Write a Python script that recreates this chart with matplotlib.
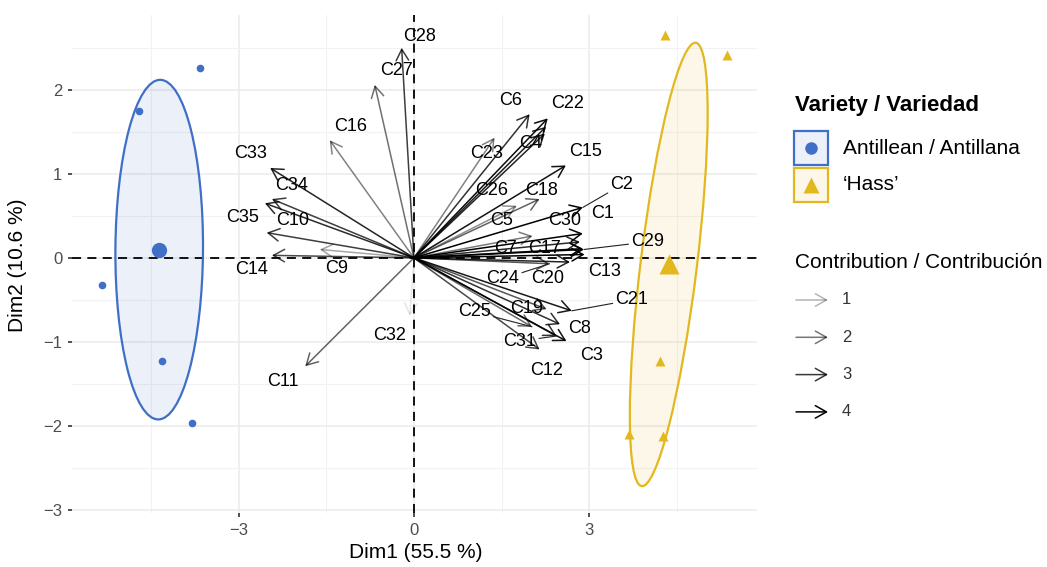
import numpy as np
import matplotlib
matplotlib.use("Agg")
import matplotlib.pyplot as plt
from matplotlib.patches import Ellipse, Rectangle

# individuals (PCA scores)
antillean_x = [-3.66, -4.70, -5.33, -4.31, -3.79]
antillean_y = [2.26, 1.75, -0.32, -1.23, -1.97]
hass_x = [4.29, 5.35, 4.21, 3.68, 4.27]
hass_y = [2.65, 2.41, -1.23, -2.10, -2.12]

# variables (scaled arrow tips) and contribution
var_names = ["C%d" % i for i in range(1, 36)]
var_x = [2.89, 2.89, 2.61, 2.26, 1.76, 1.98, 2.03, 2.50, -1.61, -2.55,
         -1.86, 2.15, 2.92, -2.43, 2.60, -1.44, 2.89, 2.15, 2.27, 2.67,
         2.70, 2.29, 1.38, 2.32, 2.02, 2.24, -0.67, -0.21, 2.91, 2.84,
         2.44, -0.07, -2.46, -2.43, -2.52]
var_y = [0.29, 0.60, -0.99, 1.56, 0.62, 1.71, 0.26, -0.79, 0.10, 0.65,
         -1.29, -1.09, 0.04, 0.03, 1.10, 1.40, 0.11, 0.70, -0.61, -0.05,
         -0.63, 1.66, 1.43, -0.07, -0.82, 1.48, 2.06, 2.50, 0.10, 0.19,
         -0.93, -0.69, 1.07, 0.70, 0.30]
contrib = [3.9, 3.9, 3.6, 3.4, 1.6, 3.1, 1.9, 3.1, 1.2, 3.2,
           2.3, 2.7, 3.9, 2.7, 3.6, 1.8, 3.8, 2.3, 2.5, 3.3,
           3.5, 3.7, 1.8, 2.5, 2.2, 3.3, 2.1, 2.9, 3.8, 3.2,
           3.1, 0.2, 3.3, 2.9, 2.9]

# label placement (repelled positions)
label_x = [3.23, 3.56, 3.04, 2.00, 1.50, 1.66, 1.56, 2.84, -1.32, -2.07,
           -2.24, 2.27, 3.26, -2.77, 2.94, -1.08, 2.24, 2.19, 1.93, 2.29,
           3.73, 2.63, 1.25, 1.52, 1.03, 1.33, -0.29, 0.10, 4.00, 2.58,
           1.81, -0.41, -2.80, -2.09, -2.94]
label_y = [0.53, 0.87, -1.16, 1.36, 0.44, 1.87, 0.11, -0.84, -0.13, 0.45,
           -1.47, -1.34, -0.16, -0.14, 1.26, 1.56, 0.11, 0.80, -0.60, -0.25,
           -0.50, 1.84, 1.24, -0.25, -0.64, 0.80, 2.23, 2.64, 0.19, 0.44,
           -0.99, -0.92, 1.24, 0.86, 0.48]
leaders = ["C2", "C21", "C24", "C25", "C29", "C31"]

blue = "#3F6FC6"
gold = "#E3B81F"
narrow = ["Liberation Sans Narrow", "Liberation Sans", "DejaVu Sans"]
plain = ["Liberation Sans", "DejaVu Sans"]

fig = plt.figure(figsize=(10.47, 5.67), dpi=100)
W, H = 1047, 567
ax = fig.add_axes([72 / W, 1 - 513 / H, (757 - 72) / W, (513 - 15) / H])
ax.set_xlim(-5.85, 5.87)
ax.set_ylim(-3.036, 2.89)

for s in ax.spines.values():
    s.set_visible(False)
ax.set_xticks([-3, 0, 3])
ax.set_yticks([-3, -2, -1, 0, 1, 2])
ax.set_xticks([-4.5, -1.5, 1.5, 4.5], minor=True)
ax.set_yticks([-2.5, -1.5, -0.5, 0.5, 1.5, 2.5], minor=True)
ax.grid(which="major", color="#ebebeb", lw=1.1)
ax.grid(which="minor", color="#f2f2f2", lw=0.8)
ax.set_axisbelow(True)
ax.tick_params(which="major", length=3, width=1.2, color="#333333",
               labelsize=12, labelcolor="#4d4d4d", pad=4)
ax.tick_params(which="minor", length=0)
for lab in ax.get_xticklabels() + ax.get_yticklabels():
    lab.set_family(plain)

ax.axhline(0, color="black", lw=1.3, dashes=(5, 3.5), zorder=2)
ax.axvline(0, color="black", lw=1.3, dashes=(5, 3.5), zorder=2)


def conf_ellipse(x, y, color, k=1.095):
    x = np.asarray(x)
    y = np.asarray(y)
    cov = np.cov(x, y)
    vals, vecs = np.linalg.eigh(cov)
    ang = np.degrees(np.arctan2(vecs[1, 1], vecs[0, 1]))
    w, h = 2 * k * np.sqrt(vals[1]), 2 * k * np.sqrt(vals[0])
    ax.add_patch(Ellipse((x.mean(), y.mean()), w, h, angle=ang, facecolor=color,
                         alpha=0.1, edgecolor="none", zorder=1))
    ax.add_patch(Ellipse((x.mean(), y.mean()), w, h, angle=ang, facecolor="none",
                         edgecolor=color, lw=1.6, zorder=3))


conf_ellipse(antillean_x, antillean_y, blue)
conf_ellipse(hass_x, hass_y, gold)

ax.plot(antillean_x, antillean_y, "o", color=blue, ms=5.5, mec="none", zorder=4)
ax.plot(hass_x, hass_y, "^", color=gold, ms=7, mec="none", zorder=4)
ax.plot(np.mean(antillean_x), np.mean(antillean_y), "o", color=blue, ms=11, mec="none", zorder=4)
ax.plot(np.mean(hass_x), np.mean(hass_y), "^", color=gold, ms=15, mec="none", zorder=4)

cmin, cmax = min(contrib), max(contrib)


def alpha_of(c):
    return float(np.clip(0.1 + 0.9 * (c - cmin) / (cmax - cmin), 0, 1))


arrow_style = "->,head_length=0.8,head_width=0.45"
for name, x, y, c in zip(var_names, var_x, var_y, contrib):
    ax.annotate("", xy=(x, y), xytext=(0, 0),
                arrowprops=dict(arrowstyle=arrow_style, lw=1.1, color=(0, 0, 0, alpha_of(c)),
                                shrinkA=0, shrinkB=0, mutation_scale=10), zorder=5)

for name, x, y, lx, ly in zip(var_names, var_x, var_y, label_x, label_y):
    if name in leaders:
        ax.annotate(name, xy=(x, y), xytext=(lx, ly), ha="center", va="center",
                    fontsize=13, family=plain, zorder=6,
                    arrowprops=dict(arrowstyle="-", lw=0.8, color="#222222",
                                    shrinkA=0, shrinkB=0))
    else:
        ax.text(lx, ly, name, ha="center", va="center", fontsize=13, family=plain, zorder=6)

fig.text(416 / W, 1 - 552 / H, "Dim1 (55.5 %)", ha="center", va="center",
         fontsize=15, family=narrow)
fig.text(18 / W, 1 - 265 / H, "Dim2 (10.6 %)", ha="center", va="center",
         rotation=90, fontsize=15, family=narrow)

# legend, drawn in figure pixel space
lax = fig.add_axes([0, 0, 1, 1], facecolor="none")
lax.set_xlim(0, W)
lax.set_ylim(H, 0)
lax.axis("off")

lax.text(795, 105, "Variety / Variedad", fontsize=16, fontweight="bold",
         family=narrow, va="center", ha="left")
keys = [(blue, "o", 9, "Antillean / Antillana", 148),
        (gold, "^", 11, "\u2018Hass\u2019", 185)]
for col, mk, ms, txt, yc in keys:
    lax.add_patch(Rectangle((794, yc - 17), 34, 34, facecolor=col, alpha=0.1, edgecolor="none"))
    lax.add_patch(Rectangle((794, yc - 17), 34, 34, facecolor="none", edgecolor=col, lw=1.6))
    lax.plot(811, yc, mk, color=col, ms=ms, mec="none")
    lax.text(843, yc, txt, fontsize=15, family=narrow, va="center", ha="left")

lax.text(795, 262, "Contribution / Contribuci\u00f3n", fontsize=15, family=narrow,
         va="center", ha="left")
for i, val in enumerate([1, 2, 3, 4]):
    yc = 300 + i * 37.3
    lax.annotate("", xy=(828, yc), xytext=(796, yc),
                 arrowprops=dict(arrowstyle=arrow_style, lw=1.1, color=(0, 0, 0, alpha_of(val)),
                                 shrinkA=0, shrinkB=0, mutation_scale=10))
    lax.text(842, yc, str(val), fontsize=12, family=plain, color="#333333",
             va="center", ha="left")

fig.savefig("out.png", dpi=100)
